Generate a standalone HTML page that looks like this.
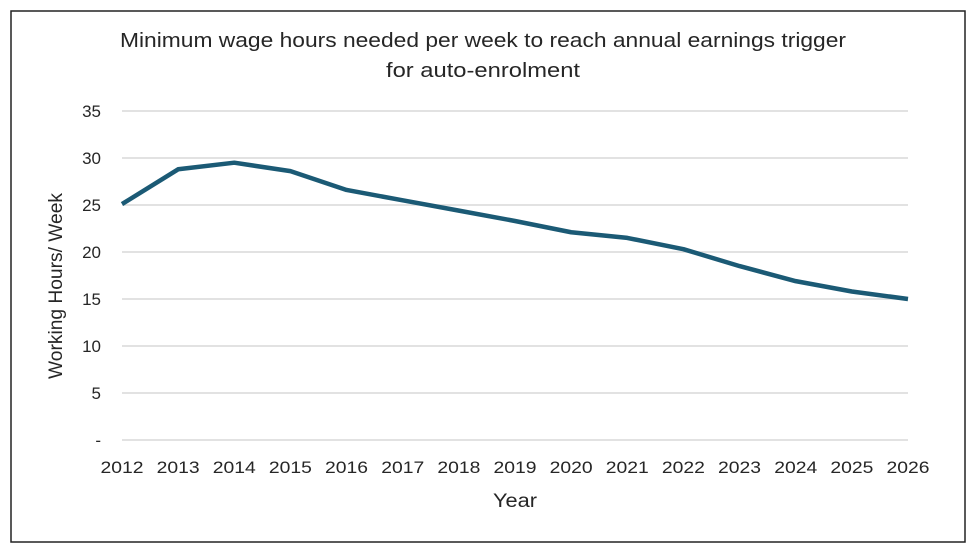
<!DOCTYPE html>
<html><head><meta charset="utf-8"><style>
body{margin:0;background:#fff;font-family:"Liberation Sans",sans-serif}
svg{display:block}
text{font-family:"Liberation Sans",sans-serif;fill:#262626}
</style></head><body>
<svg id="c" width="980" height="547">
<rect x="11" y="11" width="954" height="531" fill="#fff" stroke="#222" stroke-width="1.5"/>
<text x="483" y="47" text-anchor="middle" font-size="20" textLength="726" lengthAdjust="spacingAndGlyphs">Minimum wage hours needed per week to reach annual earnings trigger</text>
<text x="483" y="77" text-anchor="middle" font-size="20" textLength="194" lengthAdjust="spacingAndGlyphs">for auto-enrolment</text>
<text x="515" y="507" text-anchor="middle" font-size="19" textLength="44" lengthAdjust="spacingAndGlyphs">Year</text>
<text transform="translate(62,286) rotate(-90)" text-anchor="middle" font-size="19" textLength="186" lengthAdjust="spacingAndGlyphs">Working Hours/ Week</text>
<g id="grid"></g><g id="xl"></g><g id="plot"></g>
</svg>
<script>
const years=["2012","2013","2014","2015","2016","2017","2018","2019","2020","2021","2022","2023","2024","2025","2026"];
const hours=[25.1,28.8,29.5,28.6,26.6,25.5,24.4,23.3,22.1,21.5,20.3,18.5,16.9,15.8,15.0];
const yTicks=[0,5,10,15,20,25,30,35];
const yTickLabels=["-","5","10","15","20","25","30","35"];
const NS="http://www.w3.org/2000/svg";
const x0=122,x1=908,y0=440,y1=111;
const xs=i=>x0+(x1-x0)*i/(years.length-1);
const ys=v=>y0-(y0-y1)*v/35;
const grid=document.getElementById('grid'),xl=document.getElementById('xl'),plot=document.getElementById('plot');
yTicks.forEach((t,i)=>{
 const l=document.createElementNS(NS,'line');
 l.setAttribute('x1',x0);l.setAttribute('x2',x1);l.setAttribute('y1',ys(t));l.setAttribute('y2',ys(t));
 l.setAttribute('stroke','#d9d9d9');l.setAttribute('stroke-width','1.5');
 
 
 grid.appendChild(l);
 const tx=document.createElementNS(NS,'text');
 tx.setAttribute('x',101);tx.setAttribute('y',ys(t)+6);tx.setAttribute('text-anchor','end');tx.setAttribute('font-size','17');
 tx.textContent=yTickLabels[i];
 
 
 grid.appendChild(tx);
});
years.forEach((y,i)=>{
 const tx=document.createElementNS(NS,'text');
 tx.setAttribute('x',xs(i));tx.setAttribute('y',473);tx.setAttribute('text-anchor','middle');tx.setAttribute('font-size','17');
 tx.setAttribute('textLength','43');tx.setAttribute('lengthAdjust','spacingAndGlyphs');
 tx.textContent=y;
 
 
 xl.appendChild(tx);
});
const p=document.createElementNS(NS,'polyline');
p.setAttribute('points',hours.map((v,i)=>xs(i)+','+ys(v)).join(' '));
p.setAttribute('fill','none');p.setAttribute('stroke','#1b5a75');p.setAttribute('stroke-width','4.5');p.setAttribute('stroke-linejoin','round');


plot.appendChild(p);
</script>
</body></html>
